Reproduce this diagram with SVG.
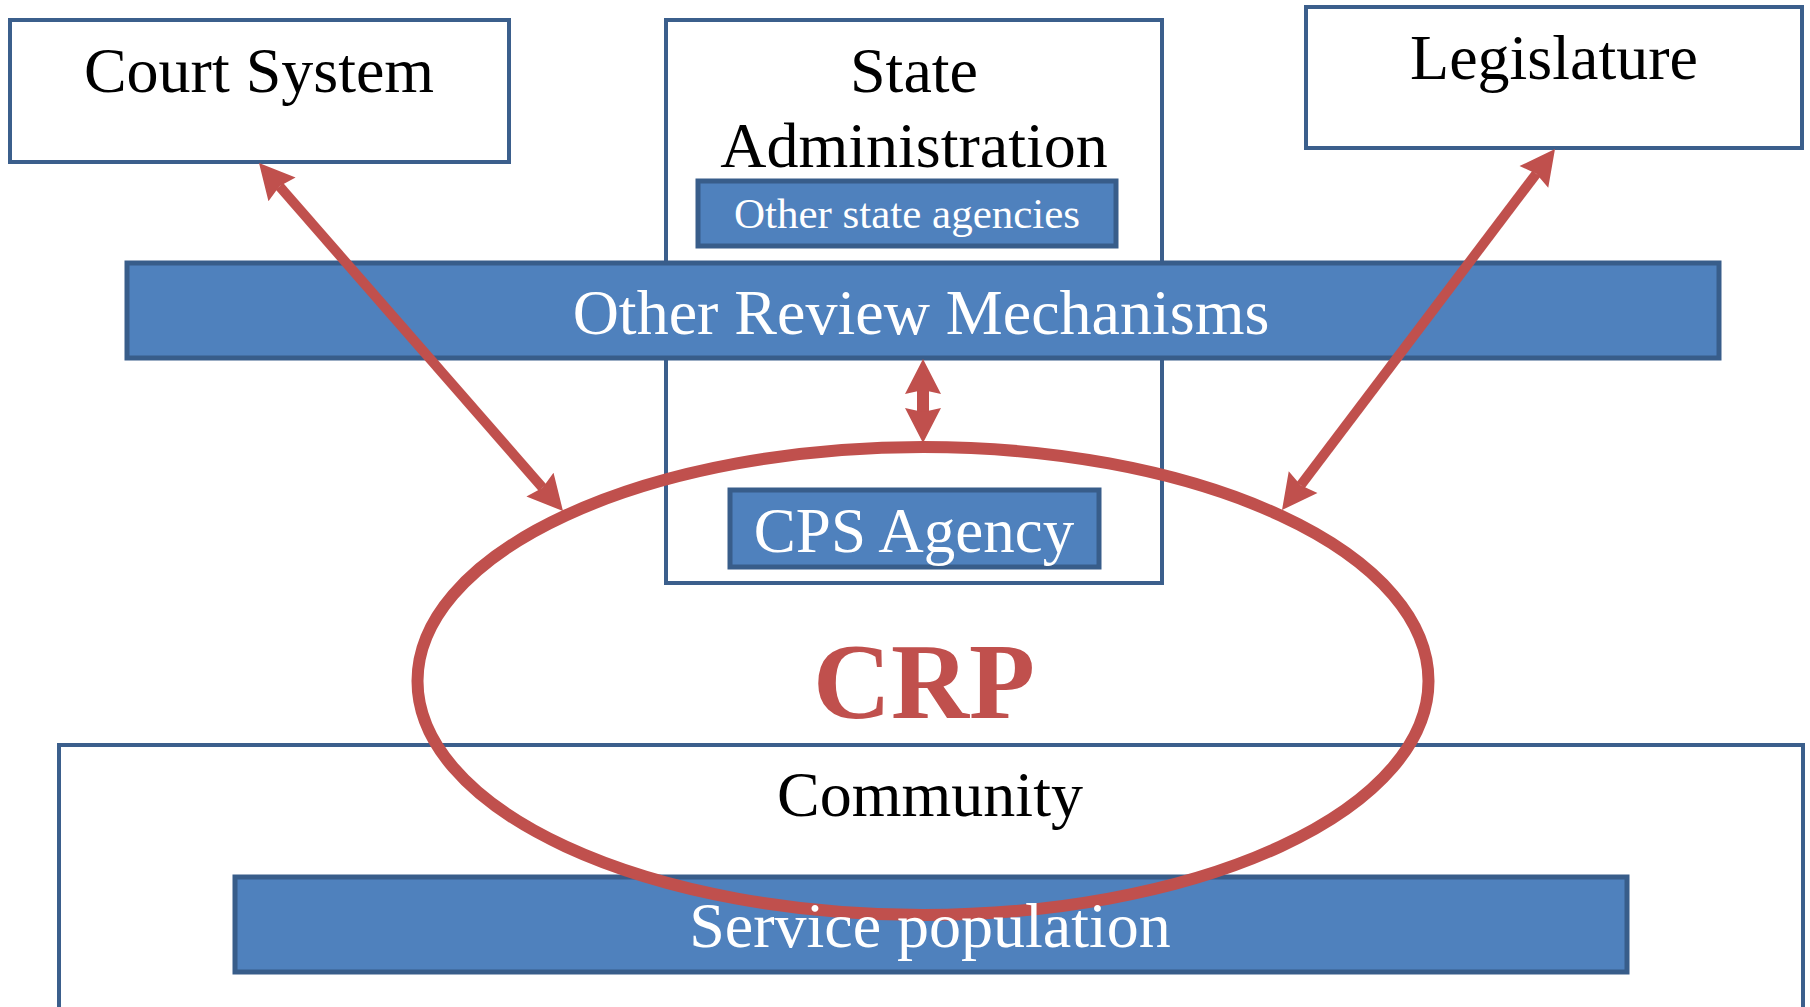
<svg xmlns="http://www.w3.org/2000/svg" width="1810" height="1007" viewBox="0 0 1810 1007">
<style>
.wbox{fill:#FFFFFF;stroke:#3B5F8C;stroke-width:4}
.bbox{fill:#4F81BD;stroke:#385D8A;stroke-width:5}
.t{font-family:"Liberation Serif","Times New Roman",serif;text-anchor:middle}
.blk{fill:#000000}
.wht{fill:#FFFFFF}
.arr{stroke:#C0504D;fill:none}
</style>
<defs>
<marker id="ah" markerUnits="userSpaceOnUse" markerWidth="40" markerHeight="40" viewBox="-1 -20 38 40" refX="4" refY="0" orient="auto-start-reverse">
<path d="M35,0 L0,-18 L4,0 L0,18 Z" fill="#C0504D"/>
</marker>
</defs>
<rect width="1810" height="1007" fill="#FFFFFF"/>
<g id="court-system">
<rect class="wbox" x="10" y="20" width="499" height="142"/>
<text class="t blk" x="259" y="92" font-size="64">Court System</text>
</g>
<g id="state-administration">
<rect class="wbox" x="666" y="20" width="496" height="563"/>
<text class="t blk" x="914" y="92" font-size="64">State</text>
<text class="t blk" x="914" y="167" font-size="64">Administration</text>
</g>
<g id="other-state-agencies">
<rect class="bbox" x="698" y="181" width="418" height="65"/>
<text class="t wht" x="907" y="228" font-size="43">Other state agencies</text>
</g>
<g id="legislature">
<rect class="wbox" x="1306" y="7" width="496" height="141"/>
<text class="t blk" x="1554" y="79" font-size="64">Legislature</text>
</g>
<g id="other-review-mechanisms">
<rect class="bbox" x="127" y="263" width="1592" height="95"/>
<text class="t wht" x="921" y="334" font-size="64">Other Review Mechanisms</text>
</g>
<g id="cps-agency">
<rect class="bbox" x="730" y="490" width="369" height="77"/>
<text class="t wht" x="914" y="552" font-size="63">CPS Agency</text>
</g>
<g id="community">
<rect class="wbox" x="59" y="745" width="1744" height="270"/>
<text class="t blk" x="930" y="816" font-size="64">Community</text>
</g>
<g id="service-population-box">
<rect class="bbox" x="235" y="877" width="1392" height="95"/>
</g>
<g id="crp">
<ellipse cx="923" cy="681" rx="505.5" ry="234" fill="none" stroke="#C0504D" stroke-width="12"/>
<text class="t" x="924" y="718" font-size="108" font-weight="bold" fill="#C0504D">CRP</text>
</g>
<g id="service-population-label">
<text class="t wht" x="930" y="947" font-size="64">Service population</text>
</g>
<g id="connectors">
<line class="arr" x1="279.4" y1="186.3" x2="542.6" y2="487.7" stroke-width="10" marker-start="url(#ah)" marker-end="url(#ah)"/>
<line class="arr" x1="1536.3" y1="173.7" x2="1300.7" y2="485.3" stroke-width="10" marker-start="url(#ah)" marker-end="url(#ah)"/>
<line class="arr" x1="923" y1="390" x2="923" y2="412" stroke-width="12" marker-start="url(#ah)" marker-end="url(#ah)"/>
</g>
</svg>
